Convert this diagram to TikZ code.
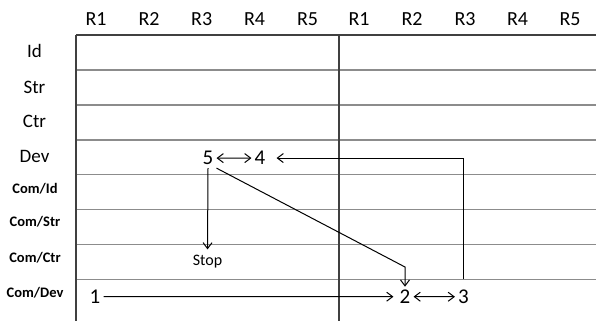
\documentclass[tikz,border=0pt]{standalone}
\usepackage{fontspec}
\setmainfont{Carlito}
\usetikzlibrary{arrows.meta}
\begin{document}
\begin{tikzpicture}[x=1pt,y=-1pt,
  gridh/.style={draw=black!45,line width=1.3pt},
  gridtop/.style={draw=black!75,line width=1.4pt},
  gridv/.style={draw=black!75,line width=1.4pt},
  hdr/.style={anchor=base,font=\fontsize{20}{24}\selectfont,inner sep=0pt},
  rlab/.style={anchor=base,font=\fontsize{19}{22}\selectfont,inner sep=0pt},
  clab/.style={anchor=base,font=\bfseries\fontsize{14.5}{17}\selectfont,inner sep=0pt},
  num/.style={anchor=base,font=\fontsize{21}{24}\selectfont,inner sep=3pt},
  conn/.style={draw=black,line width=1pt},
  arr/.style={conn,-{Straight Barb[length=6pt,width=9pt]}},
  darr/.style={conn,{Straight Barb[length=6pt,width=9pt]}-{Straight Barb[length=6pt,width=9pt]}}
]
\useasboundingbox (0,0) rectangle (596,321);
\fill[white] (0,0) rectangle (596,321);
% grid
\foreach \y/\n in {70/l2,105/l3,140/l4,174.5/l5,209.3/l6,244.3/l7,279.3/l8}
  \draw[gridh] (76,\y) -- (596,\y) coordinate (\n);
\draw[gridtop] (76,35) -- (596,35);
\draw[gridv] (76,35) -- (76,321);
\draw[gridv] (339,35) -- (339,321);
% column headers
\foreach \x/\t [count=\i] in {96/R1,149/R2,201.7/R3,254.5/R4,307.5/R5,359/R1,412/R2,465/R3,517.5/R4,570/R5}
  \node[hdr] (h\i) at (\x,25.5) {\t};
% row labels
\node[rlab] (rid) at (34.5,57.8) {Id};
\node[rlab] (rstr) at (34.5,93.4) {Str};
\node[rlab] (rctr) at (34.5,127.8) {Ctr};
\node[rlab] (rdev) at (34.5,162.8) {Dev};
\node[clab] (rcid) at (35,193.2) {Com/Id};
\node[clab] (rcstr) at (35,226.6) {Com/Str};
\node[clab] (rcctr) at (35,262.6) {Com/Ctr};
\node[clab] (rcdev) at (35,297.9) {Com/Dev};
% numbers
\node[num] (n5) at (208,164.8) {5};
\node[num] (n4) at (260,164.8) {4};
\node[num] (n1) at (95,303.5) {1};
\node[num] (n2) at (405,303.5) {2};
\node[num] (n3) at (463.5,303.5) {3};
\node[anchor=base,font=\fontsize{16}{19}\selectfont,inner sep=3pt] (stop) at (207.5,265) {Stop};
% connectors
\draw[darr] (n5) -- (n4);
\draw[darr] (n2) -- (n3);
\draw[arr,shorten >=2pt] (n5.south) -- (stop.north);
\draw[arr,shorten >=3pt] (n1) -- (n2);
\draw[arr,shorten >=8pt] (n3.north |- l8) |- (n4.east);
\coordinate (bend) at (n2.north |- 0,267);
\draw[arr] (n5.south east) -- (bend) -- (n2.north);
\end{tikzpicture}
\end{document}
